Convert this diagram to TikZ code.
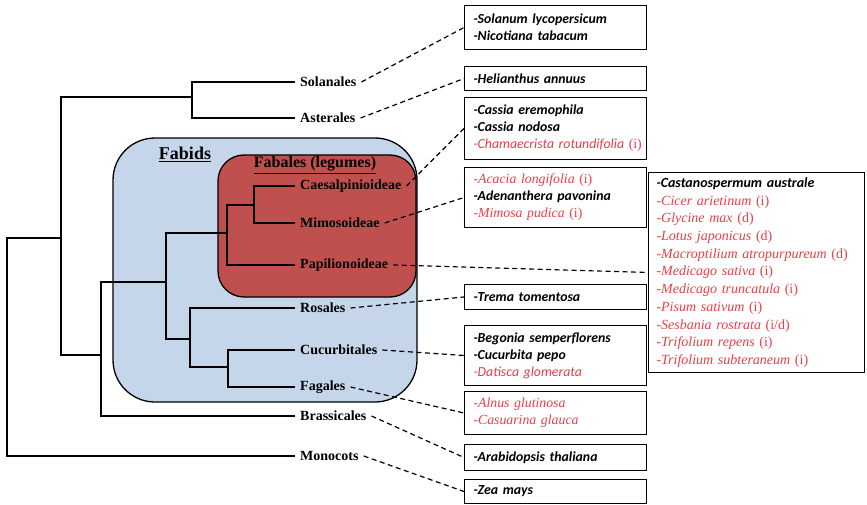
\documentclass[tikz,border=0pt]{standalone}
\usepackage{fontspec}
\setmainfont{Liberation Serif}
\newfontfamily\carlito{Carlito}
\definecolor{fabidblue}{RGB}{197,213,234}
\definecolor{fabalesred}{RGB}{192,80,77}
\definecolor{symred}{RGB}{232,62,72}
% species entries: black = not nodulating, red = nodulating (with infection type)
\newcommand{\spblk}[1]{\mbox{\carlito\bfseries\itshape -#1}}
\newcommand{\spred}[2][]{\mbox{\color{symred}\itshape -#2\ifx\relax#1\relax\else\upshape\ (#1)\fi}}
\newcommand{\spredsf}[2][]{\mbox{\color{symred}{\carlito\itshape -#2}\ifx\relax#1\relax\else\upshape\ (#1)\fi}}
\begin{document}
\begin{tikzpicture}[x=1pt,y=-1pt,
  branch/.style={line width=1.8pt, line join=miter},
  order/.style={anchor=west, inner xsep=5pt, inner ysep=1pt, font=\fontsize{14}{16}\selectfont\bfseries},
  dashline/.style={line width=1.2pt, dash pattern=on 5pt off 3.5pt},
  spbox/.style={draw, line width=1pt, anchor=north west, minimum width=182pt,
    text width=164pt, inner xsep=9pt, inner ysep=2pt, align=left,
    font=\fontsize{13.8}{17}\selectfont},
  cladebox/.style={draw, line width=1.3pt}]
\useasboundingbox (0,0) rectangle (867,505);

% clade shading
\draw[cladebox, fill=fabidblue, rounded corners=42pt] (113,138) rectangle (417,402);
\draw[cladebox, fill=fabalesred, rounded corners=26pt] (218,155) rectangle (416,297);
\node[font=\fontsize{18}{20}\selectfont\bfseries] (fabids) at (185,154) {\underline{Fabids}};
\node[font=\fontsize{16}{18}\selectfont\bfseries] (fabales) at (315,165) {\underline{Fabales (legumes)}};

% tip labels
\node[order] (sol)  at (295,82)  {Solanales};
\node[order] (ast)  at (295,118) {Asterales};
\node[order] (cae)  at (295,186) {Caesalpinioideae};
\node[order] (mim)  at (295,223) {Mimosoideae};
\node[order] (pap)  at (295,265) {Papilionoideae};
\node[order] (ros)  at (295,308) {Rosales};
\node[order] (cuc)  at (295,350) {Cucurbitales};
\node[order] (fag)  at (295,387) {Fagales};
\node[order] (bra)  at (295,416) {Brassicales};
\node[order] (mon)  at (295,456) {Monocots};

% internal nodes of the tree
\coordinate (root)   at (7,347);
\coordinate (eud)    at (61,238);
\coordinate (asterid) at (192,97);
\coordinate (rosid)  at (101,355);
\coordinate (fabid)  at (166,282);
\coordinate (legume) at (227,233);
\coordinate (caemim) at (254,205);
\coordinate (rcf)    at (190,339);
\coordinate (cf)     at (228,367);

% branches
\draw[branch] (eud) -| (root) |- (mon.west);
\draw[branch] (asterid) -| (eud);
\draw[branch] (rosid) -| (eud);
\draw[branch] (sol.west) -| (asterid);
\draw[branch] (ast.west) -| (asterid);
\draw[branch] (fabid) -| (rosid);
\draw[branch] (bra.west) -| (rosid);
\draw[branch] (legume) -| (fabid);
\draw[branch] (rcf) -| (fabid);
\draw[branch] (caemim) -| (legume);
\draw[branch] (pap.west) -| (legume);
\draw[branch] (cae.west) -| (caemim);
\draw[branch] (mim.west) -| (caemim);
\draw[branch] (ros.west) -| (rcf);
\draw[branch] (cf) -| (rcf);
\draw[branch] (cuc.west) -| (cf);
\draw[branch] (fag.west) -| (cf);

% species boxes
\node[spbox, minimum height=44pt] (b1) at (464,5)
  {\spblk{Solanum lycopersicum}\\\spblk{Nicotiana tabacum}};
\node[spbox, minimum height=24pt] (b2) at (464,66)
  {\spblk{Helianthus annuus}};
\node[spbox, minimum height=62pt] (b3) at (464,97)
  {\spblk{Cassia eremophila}\\\spblk{Cassia nodosa}\\\spredsf[i]{Chamaecrista rotundifolia}};
\node[spbox, minimum height=60pt] (b4) at (464,167)
  {\spred[i]{Acacia longifolia}\\\spblk{Adenanthera pavonina}\\\spred[i]{Mimosa pudica}};
\node[spbox, minimum height=25pt] (b5) at (464,284)
  {\spblk{Trema tomentosa}};
\node[spbox, minimum height=60pt] (b6) at (464,325)
  {\spblk{Begonia semperflorens}\\\spblk{Cucurbita pepo}\\\spredsf{Datisca glomerata}};
\node[spbox, minimum height=43pt] (b7) at (464,391)
  {\spred{Alnus glutinosa}\\\spred{Casuarina glauca}};
\node[spbox, minimum height=26pt] (b8) at (464,444)
  {\spblk{Arabidopsis thaliana}};
\node[spbox, minimum height=24pt] (b9) at (464,479)
  {\spblk{Zea mays}};
\node[spbox, minimum width=216pt, text width=200pt, inner xsep=8pt,
      minimum height=200pt, font=\fontsize{14}{17.7}\selectfont] (b10) at (648,172)
  {\spblk{Castanospermum australe}\\
   \spred[i]{Cicer arietinum}\\
   \spred[d]{Glycine max}\\
   \spred[d]{Lotus japonicus}\\
   \spred[d]{Macroptilium atropurpureum}\\
   \spred[i]{Medicago sativa}\\
   \spred[i]{Medicago truncatula}\\
   \spred[i]{Pisum sativum}\\
   \spred[i/d]{Sesbania rostrata}\\
   \spred[i]{Trifolium repens}\\
   \spred[i]{Trifolium subteraneum}};

% links from clades to their species
\draw[dashline] (sol.east) -- (b1.west);
\draw[dashline] (ast.east) -- (b2.west);
\draw[dashline] (cae.east) -- (b3.west);
\draw[dashline] (mim.east) -- (b4.west);
\draw[dashline] (pap.east) -- (b10.west);
\draw[dashline] (ros.east) -- (b5.west);
\draw[dashline] (cuc.east) -- (b6.west);
\draw[dashline] (fag.east) -- (b7.west);
\draw[dashline] (bra.east) -- (b8.west);
\draw[dashline] (mon.east) -- (b9.west);
\end{tikzpicture}
\end{document}
